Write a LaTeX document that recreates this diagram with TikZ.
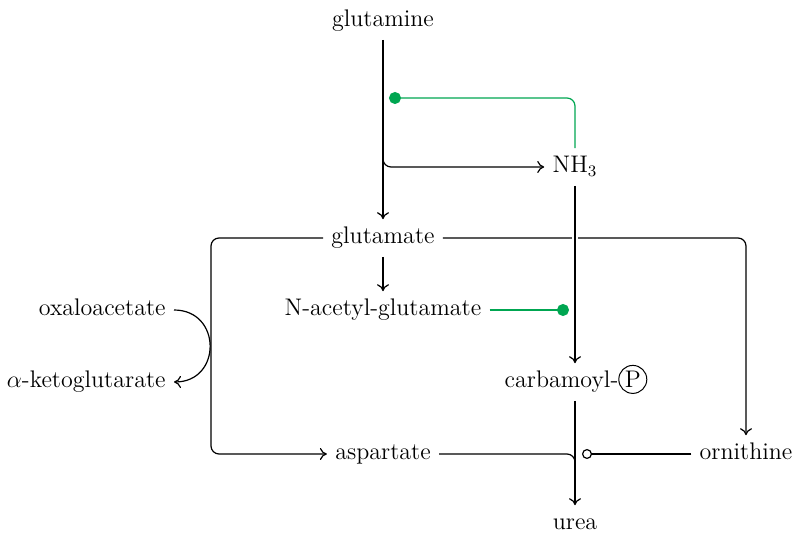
\documentclass[tikz,border=0pt]{standalone}
\usetikzlibrary{arrows.meta}
\definecolor{actgreen}{RGB}{0,166,81}
\newcommand{\circP}{\tikz[baseline=(pp.base)]\node[draw,circle,inner sep=0pt,minimum size=14pt,line width=0.5pt](pp){P};}
\tikzset{
  mol/.style={inner sep=4pt,text height=8pt,text depth=2.4pt},
  rxn/.style={line width=0.6pt,-{To[length=3.5pt,width=6pt]}},
  plain/.style={line width=0.6pt},
  act/.style={actgreen,line width=0.6pt,-{Circle[length=6pt]}},
  inh/.style={line width=0.6pt,-{Circle[open,length=5pt]}}
}
\begin{document}
\begin{tikzpicture}[x=0.5pt,y=-0.5pt,font=\fontsize{12}{14}\selectfont]
	\useasboundingbox (0,0) rectangle (793,533);
	\node[mol] (gln) at (383,21) {glutamine};
	\node[mol] (nh3) at (575,167) {NH$_3$};
	\node[mol] (glu) at (383,238) {glutamate};
	\node[mol] (nag) at (383,310) {N-acetyl-glutamate};
	\node[mol,anchor=east] (oaa) at (174,310) {oxaloacetate};
	\node[mol,anchor=east] (akg) at (174,382) {$\alpha$-ketoglutarate};
	\node[mol] (cp) at (576,382) {carbamoyl-\circP};
	\node[mol] (asp) at (383,454) {aspartate};
	\node[mol] (orn) at (746,454) {ornithine};
	\node[mol] (urea) at (575,524) {urea};
		\coordinate (br) at (383,150);
		\coordinate (gdot) at (389,98);
		\coordinate (ndot) at (569,310);
		\coordinate (merge) at (575,472);
	\draw[rxn] (gln) -- (glu);
	\draw[rxn,rounded corners=4pt] (br) |- (nh3);
	\draw[act,rounded corners=4pt] (nh3) |- (gdot);
	\draw[rxn] (glu) -- (nag);
	\draw[rxn,rounded corners=4pt] (glu) -| (orn);
	\draw[rxn,preaction={draw,white,line width=3pt}] (nh3) -- (nh3 |- cp.north);
	\draw[act] (nag) -- (ndot);
	\draw[rxn,rounded corners=4pt] (glu.west) -- (211,238) |- (asp);
	\draw[rxn] (oaa.east) .. controls (222,310) and (222,382) .. (akg.east);
	\draw[rxn] (nh3 |- cp.south) -- (urea);
	\draw[plain,rounded corners=4pt] (asp) -- (merge |- asp) -- (merge);
	\draw[inh] (orn) -- (582,454);
\end{tikzpicture}
\end{document}
